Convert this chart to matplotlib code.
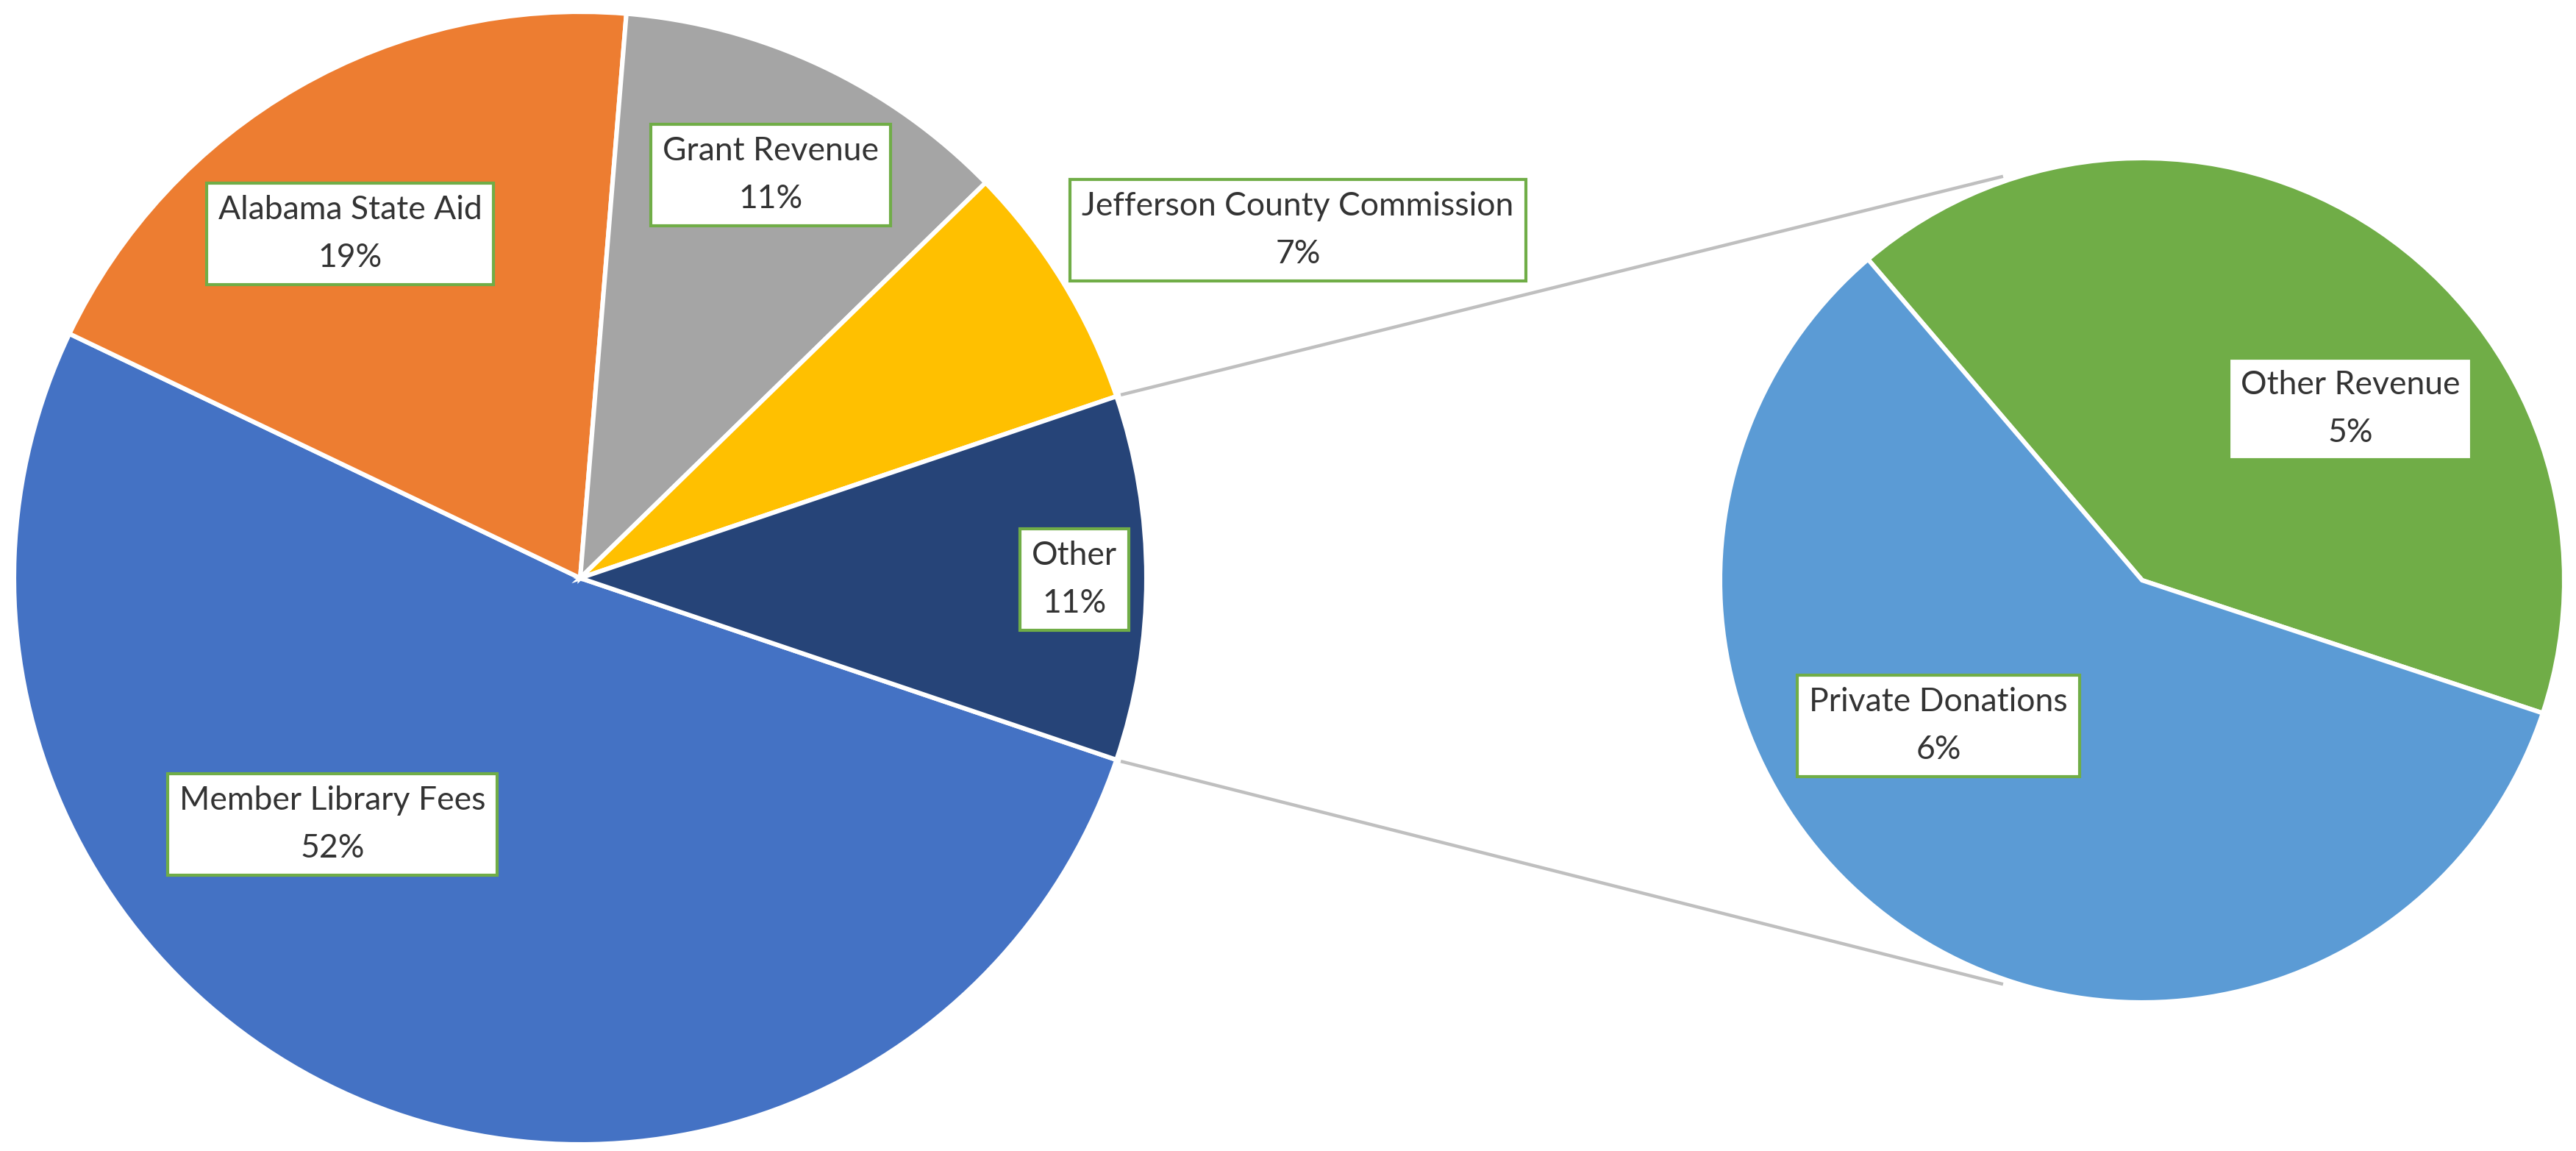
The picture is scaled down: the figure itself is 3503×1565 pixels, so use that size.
import matplotlib.pyplot as plt
import numpy as np
from matplotlib import font_manager

# left pie (main), values in percent
main_names = ["Member Library Fees", "Alabama State Aid", "Grant Revenue",
              "Jefferson County Commission", "Other"]
main_values = [51.9, 19.2, 11.4, 7.1, 10.4]
main_labels = ["52%", "19%", "11%", "7%", "11%"]
main_colors = ["#4472C4", "#ED7D31", "#A5A5A5", "#FFC000", "#264478"]

# right pie (breakdown of "Other")
sub_names = ["Other Revenue", "Private Donations"]
sub_values = [4.3, 6.1]
sub_labels = ["5%", "6%"]
sub_colors = ["#70AD47", "#5B9BD5"]

W, H = 3503, 1565
DPI = 200

names = {f.name for f in font_manager.fontManager.ttflist}
if "Liberation Sans Narrow" in names:
    lab_font = "Liberation Sans Narrow"
    lab_size = 18
else:
    lab_font = "Lato"
    lab_size = 16

fig = plt.figure(figsize=(W / DPI, H / DPI), dpi=DPI)
ax = fig.add_axes([0, 0, 1, 1])

# pixel layout (y up)
c1, r1 = (789, 779), 770
c2, r2 = (2913, 776), 574

other_ang = main_values[-1] / sum(main_values) * 360
ax.pie(main_values, center=c1, radius=r1, colors=main_colors,
       startangle=-other_ang / 2, counterclock=False,
       wedgeprops=dict(edgecolor="white", linewidth=2.2))
ax.pie(sub_values, center=c2, radius=r2, colors=sub_colors,
       startangle=130.5, counterclock=False,
       wedgeprops=dict(edgecolor="white", linewidth=2.2))

# connector lines
for sgn in (1, -1):
    a1 = np.deg2rad(sgn * other_ang / 2)
    a2 = np.deg2rad(sgn * 109)
    p1 = (c1[0] + r1 * 1.008 * np.cos(a1), c1[1] + r1 * 1.008 * np.sin(a1))
    p2 = (c2[0] + r2 * 1.012 * np.cos(a2), c2[1] + r2 * 1.012 * np.sin(a2))
    ax.plot([p1[0], p2[0]], [p1[1], p2[1]], color="#BFBFBF", lw=1.6,
            solid_capstyle="butt", zorder=1)

# label boxes
main_pos = [(452, 444), (476, 1247), (1048, 1327), (1765, 1252), (1461, 777)]
sub_pos = [(3196, 1009), (2636, 578)]
box = dict(boxstyle="square,pad=0.36", fc="white", ec="#70AD47", lw=1.5)
for nm, lb, pos in list(zip(main_names, main_labels, main_pos)) + \
        list(zip(sub_names, sub_labels, sub_pos)):
    ax.text(pos[0], pos[1], nm + "\n" + lb, ha="center", va="center",
            multialignment="center", fontsize=lab_size, family=lab_font,
            color="#333333", linespacing=1.72, bbox=box, zorder=5)

ax.set_xlim(0, W)
ax.set_ylim(0, H)
ax.set_aspect("equal")
ax.axis("off")

fig.savefig("out.png", dpi=DPI, facecolor="white")
